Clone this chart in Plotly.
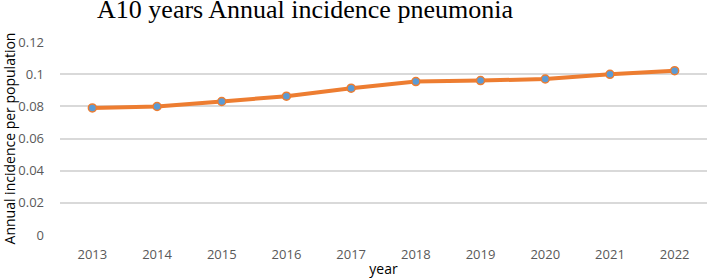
import plotly.graph_objects as go

years = ["2013", "2014", "2015", "2016", "2017", "2018", "2019", "2020", "2021", "2022"]
incidence = [0.0790, 0.0799, 0.0830, 0.0863, 0.0913, 0.0954, 0.0960, 0.0970, 0.0999, 0.1022]
y_ticks = [0, 0.02, 0.04, 0.06, 0.08, 0.1, 0.12]
y_tick_labels = ["0", "0.02", "0.04", "0.06", "0.08", "0.1", "0.12"]

fig = go.Figure()
fig.add_trace(go.Scatter(
    x=years, y=incidence, mode="lines+markers",
    line=dict(color="#ED7D31", width=4),
    marker=dict(color="#5B9BD5", size=8, line=dict(color="#ED7D31", width=1.5)),
    showlegend=False,
))

fig.update_layout(
    width=708, height=280,
    margin=dict(l=60, r=1, t=42, b=45),
    paper_bgcolor="white", plot_bgcolor="white",
    title=dict(text="A10 years Annual incidence pneumonia",
               font=dict(family="Liberation Serif", size=26, color="black"),
               x=305/708, xanchor="center", yref="container", y=1, yanchor="top",
               pad=dict(t=0, b=0), automargin=False),
    xaxis=dict(type="category", showgrid=False, zeroline=False, showline=False,
               ticks="", automargin=False, ticklabelstandoff=10,
               tickfont=dict(family="Open Sans", size=13, color="#595959"),
               title=dict(text="year", font=dict(family="Open Sans", size=14, color="black"), standoff=2),
               range=[-0.5, 9.5]),
    yaxis=dict(range=[0, 0.12], tickvals=y_ticks, ticktext=y_tick_labels,
               showgrid=True, gridcolor="#D9D9D9", gridwidth=1.5, zeroline=False,
               showline=False, ticks="", ticklabelstandoff=15, automargin=False,
               tickfont=dict(family="Open Sans", size=13, color="#595959"),
               title=dict(text="Annual incidence per population",
                          font=dict(family="Open Sans", size=14, color="black"), standoff=6)),
)
fig.write_html("out.html", config={"displayModeBar": False},
               post_script="document.body.style.margin='0';document.body.style.overflow='hidden';")
